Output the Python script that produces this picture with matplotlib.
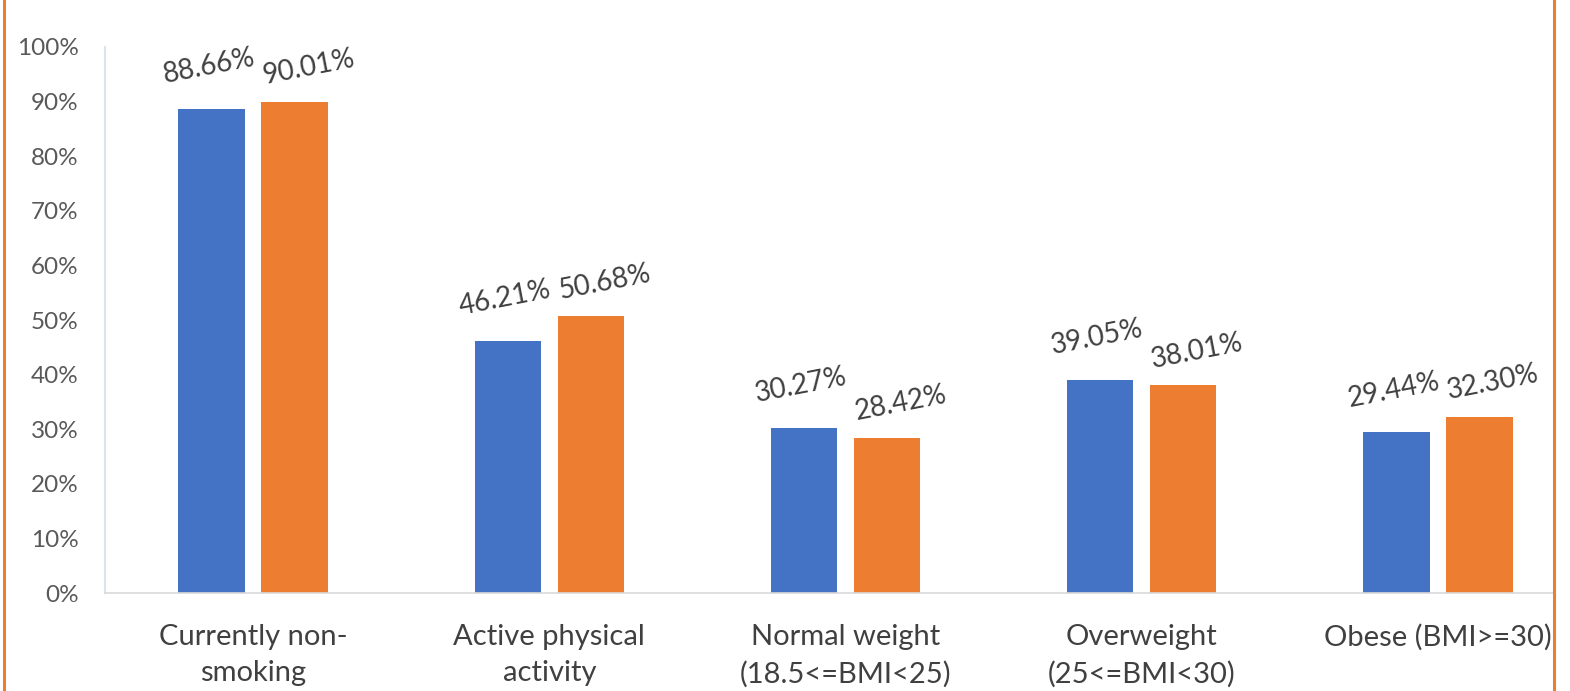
import matplotlib

matplotlib.use("Agg")

import matplotlib.pyplot as plt
import numpy as np
from matplotlib.lines import Line2D
from matplotlib.patches import Rectangle

categories = [
    "Currently non-\nsmoking",
    "Active physical\nactivity",
    "Normal weight\n(18.5<=BMI<25)",
    "Overweight\n(25<=BMI<30)",
    "Obese (BMI>=30)",
]
series_a = [88.66, 46.21, 30.27, 39.05, 29.44]
series_b = [90.01, 50.68, 28.42, 38.01, 32.30]
yticks = list(range(0, 101, 10))

BLUE = "#4472C4"
ORANGE = "#ED7D31"

plt.rcParams["font.family"] = ["Lato", "DejaVu Sans"]

fig = plt.figure(figsize=(15.7, 6.91), dpi=100)
# plot area runs past the panel's right edge; the panel crops it
ax = fig.add_axes([0.0669, 0.1418, 0.9433, 0.7902])

x = np.arange(len(categories))
w = 0.224
off = 0.14
bars_a = ax.bar(x - off, series_a, w, color=BLUE)
bars_b = ax.bar(x + off, series_b, w, color=ORANGE)

# data labels, nudged apart so neighbouring rotated labels don't collide
for bars, vals, nudge in ((bars_a, series_a, (-2, 15)), (bars_b, series_b, (10, 9))):
    for b, v in zip(bars, vals):
        ax.annotate(f"{v:.2f}%", (b.get_x() + b.get_width() / 2, v),
                    xytext=nudge, textcoords="offset points",
                    ha="center", va="bottom", rotation=11,
                    fontsize=20, color="#404040")

ax.set_xlim(-0.5, len(categories) - 0.5)
ax.set_ylim(0, 100)
ax.set_yticks(yticks)
ax.set_yticklabels([f"{t}%" for t in yticks], fontsize=17.5, color="#595959")
ax.set_xticks(x)
ax.set_xticklabels(categories, fontsize=21, color="#404040", linespacing=1.5)
ax.tick_params(axis="y", length=0, pad=19)
ax.tick_params(axis="x", length=0, pad=22)

for s in ("top", "right"):
    ax.spines[s].set_visible(False)
ax.spines["left"].set_color("#DCE3F0")
ax.spines["left"].set_linewidth(1.5)
ax.spines["bottom"].set_color("#D9D9D9")
ax.spines["bottom"].set_linewidth(1.2)

# panel edges: white beyond the right border, orange rules either side
fig.add_artist(Rectangle((0.9898, 0), 0.02, 1, transform=fig.transFigure,
                         facecolor="white", edgecolor="none", zorder=5))
for xf in (0.0025, 0.9898):
    fig.add_artist(Line2D([xf, xf], [0, 1], color=ORANGE, lw=2.2,
                          transform=fig.transFigure, zorder=6))

fig.savefig("out.png", dpi=100)
